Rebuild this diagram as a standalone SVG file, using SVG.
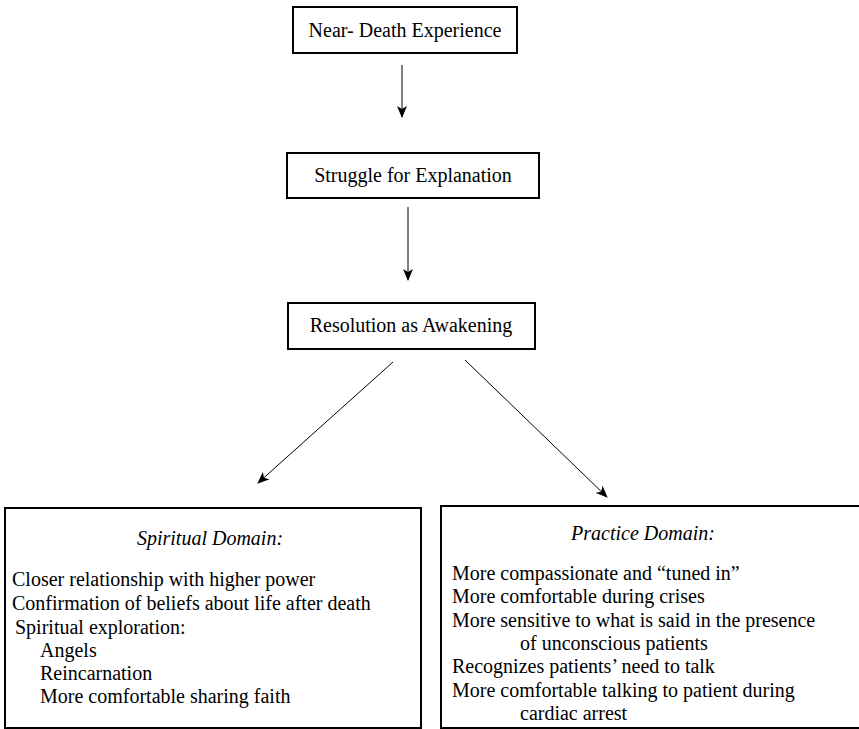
<svg xmlns="http://www.w3.org/2000/svg" width="859" height="729" viewBox="0 0 859 729" font-family="Liberation Serif, Times New Roman, serif" font-size="20">
<defs>
<marker id="ah" viewBox="0 0 12 10" refX="11" refY="5" markerWidth="12" markerHeight="10" markerUnits="userSpaceOnUse" orient="auto">
<path d="M0,0 L12,5 L0,10 L3,5 Z" fill="#000"/>
</marker>
</defs>
<rect width="859" height="729" fill="#fff"/>
<g id="connectors" stroke="#000" stroke-width="1" fill="none">
<line x1="402" y1="65" x2="402" y2="117" marker-end="url(#ah)"/>
<line x1="408" y1="207" x2="408" y2="280" marker-end="url(#ah)"/>
<line x1="393" y1="362" x2="258" y2="483" marker-end="url(#ah)"/>
<line x1="465" y1="360" x2="607" y2="497" marker-end="url(#ah)"/>
</g>
<g id="n1">
<rect x="293" y="7" width="224" height="46" fill="#fff" stroke="#000" stroke-width="2"/>
<text font-family="Liberation Serif" text-anchor="middle" x="405" y="37">Near- Death Experience</text>
</g>
<g id="n2">
<rect x="287" y="153" width="252" height="45" fill="#fff" stroke="#000" stroke-width="2"/>
<text font-family="Liberation Serif" text-anchor="middle" x="413" y="182">Struggle for Explanation</text>
</g>
<g id="n3">
<rect x="288" y="303" width="247" height="46" fill="#fff" stroke="#000" stroke-width="2"/>
<text font-family="Liberation Serif" text-anchor="middle" x="411" y="332">Resolution as Awakening</text>
</g>
<g id="n4">
<rect x="5" y="508" width="416" height="220" fill="#fff" stroke="#000" stroke-width="2"/>
<text font-family="Liberation Serif" text-anchor="middle" font-style="italic" x="210" y="545">Spiritual  Domain:</text>
<text font-family="Liberation Serif" x="12" y="586">Closer relationship with higher power</text>
<text font-family="Liberation Serif" x="12" y="610">Confirmation of beliefs about life after death</text>
<text font-family="Liberation Serif" x="15" y="634">Spiritual exploration:</text>
<text font-family="Liberation Serif" x="40" y="657">Angels</text>
<text font-family="Liberation Serif" x="40" y="680">Reincarnation</text>
<text font-family="Liberation Serif" x="40" y="703">More comfortable sharing faith</text>
</g>
<g id="n5">
<rect x="441" y="506" width="430" height="222" fill="#fff" stroke="#000" stroke-width="2"/>
<text font-family="Liberation Serif" text-anchor="middle" font-style="italic" x="643" y="540">Practice Domain:</text>
<text font-family="Liberation Serif" x="452" y="580">More compassionate and “tuned in”</text>
<text font-family="Liberation Serif" x="452" y="603">More comfortable during crises</text>
<text font-family="Liberation Serif" x="452" y="627">More sensitive to what is said in the presence</text>
<text font-family="Liberation Serif" x="520" y="650">of unconscious patients</text>
<text font-family="Liberation Serif" x="452" y="673">Recognizes patients’ need to talk</text>
<text font-family="Liberation Serif" x="452" y="697">More comfortable talking to patient during</text>
<text font-family="Liberation Serif" x="520" y="720">cardiac arrest</text>
</g>
</svg>
